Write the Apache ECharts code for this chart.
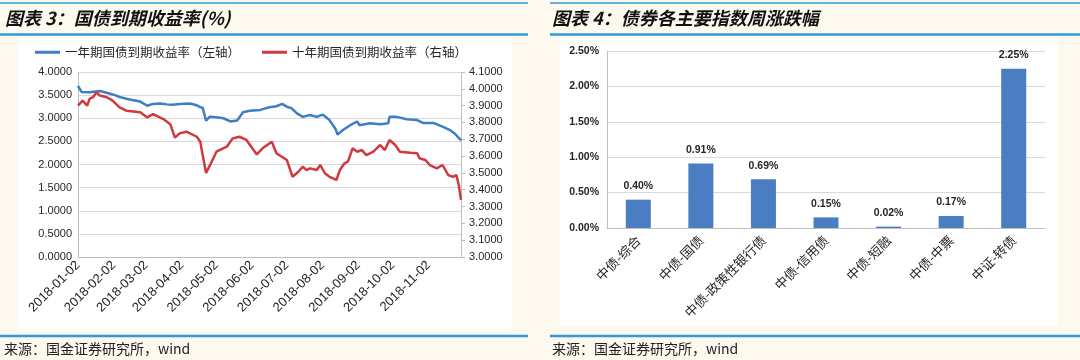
<!DOCTYPE html>
<html><head><meta charset="utf-8">
<script src="https://cdn.jsdelivr.net/npm/echarts@6/dist/echarts.min.js"></script>
<style>html,body{margin:0;padding:0;background:#FDF9EE}#c{width:1080px;height:360px}</style>
</head><body><div id="c"></div>
<script>
// ---- Chart 3 data: bond yields ----
const oneYearName = '一年期国债到期收益率（左轴）';
const tenYearName = '十年期国债到期收益率（右轴）';
const oneYearDates = ['2018-01-02','2018-01-05','2018-01-12','2018-01-21','2018-01-30','2018-02-03','2018-02-07','2018-02-13','2018-02-19','2018-02-25','2018-03-03','2018-03-08','2018-03-14','2018-03-20','2018-03-25','2018-03-31','2018-04-09','2018-04-15','2018-04-18','2018-04-20','2018-04-23','2018-04-26','2018-05-02','2018-05-08','2018-05-14','2018-05-20','2018-05-25','2018-05-31','2018-06-09','2018-06-17','2018-06-23','2018-06-28','2018-07-02','2018-07-06','2018-07-11','2018-07-16','2018-07-22','2018-07-28','2018-08-02','2018-08-08','2018-08-13','2018-08-15','2018-08-20','2018-08-26','2018-09-01','2018-09-03','2018-09-12','2018-09-21','2018-09-28','2018-09-29','2018-10-05','2018-10-14','2018-10-23','2018-10-28','2018-11-06','2018-11-14','2018-11-20','2018-11-25','2018-11-30'];
const oneYearValues = [3.70,3.57,3.56,3.59,3.53,3.50,3.46,3.42,3.39,3.36,3.27,3.31,3.32,3.30,3.29,3.31,3.32,3.28,3.24,3.23,2.95,3.03,3.02,3.00,2.93,2.95,3.13,3.16,3.18,3.24,3.26,3.31,3.25,3.22,3.10,3.03,3.07,3.03,3.08,2.96,2.78,2.65,2.75,2.85,2.93,2.85,2.89,2.87,2.89,3.03,3.03,2.98,2.96,2.90,2.90,2.82,2.75,2.66,2.52];
const tenYearDates = ['2018-01-02','2018-01-06','2018-01-10','2018-01-12','2018-01-15','2018-01-18','2018-01-21','2018-01-27','2018-02-01','2018-02-07','2018-02-13','2018-02-25','2018-03-03','2018-03-08','2018-03-17','2018-03-23','2018-03-27','2018-03-31','2018-04-06','2018-04-15','2018-04-18','2018-04-20','2018-04-23','2018-04-26','2018-05-02','2018-05-11','2018-05-16','2018-05-22','2018-05-28','2018-06-06','2018-06-11','2018-06-19','2018-06-23','2018-07-02','2018-07-07','2018-07-12','2018-07-16','2018-07-19','2018-07-22','2018-07-28','2018-07-31','2018-08-04','2018-08-08','2018-08-14','2018-08-17','2018-08-21','2018-08-24','2018-08-28','2018-09-01','2018-09-05','2018-09-09','2018-09-15','2018-09-21','2018-09-25','2018-09-29','2018-10-04','2018-10-08','2018-10-17','2018-10-23','2018-10-25','2018-10-30','2018-11-03','2018-11-09','2018-11-14','2018-11-19','2018-11-23','2018-11-26','2018-11-28','2018-11-30'];
const tenYearValues = [3.90,3.93,3.90,3.94,3.95,3.98,3.96,3.95,3.93,3.89,3.87,3.86,3.83,3.85,3.82,3.79,3.71,3.735,3.745,3.715,3.685,3.61,3.50,3.54,3.626,3.656,3.705,3.715,3.696,3.61,3.646,3.685,3.617,3.577,3.477,3.507,3.537,3.517,3.527,3.517,3.547,3.498,3.477,3.458,3.517,3.557,3.567,3.646,3.626,3.636,3.606,3.626,3.666,3.636,3.696,3.666,3.626,3.62,3.617,3.587,3.577,3.547,3.527,3.547,3.487,3.477,3.487,3.43,3.34];
const xTickLabels = ['2018-01-02','2018-02-02','2018-03-02','2018-04-02','2018-05-02','2018-06-02','2018-07-02','2018-08-02','2018-09-02','2018-10-02','2018-11-02'];
const axisStart = '2018-01-02', axisEnd = '2018-11-30';

// ---- Chart 4 data: weekly index change ----
const barCategories = ['中债-综合','中债-国债','中债-政策性银行债','中债-信用债','中债-短融','中债-中票','中证-转债'];
const barValues = [0.40,0.91,0.69,0.15,0.02,0.17,2.25];

// calendar day categories for the date axis
function dayList(a, b) {
  const out = [];
  let t = Date.parse(a + 'T00:00:00Z'); const e = Date.parse(b + 'T00:00:00Z');
  while (t <= e) { out.push(new Date(t).toISOString().slice(0, 10)); t += 86400000; }
  return out;
}
const dayCats = dayList(axisStart, axisEnd);
const zip = (d, v) => d.map((x, i) => [x, v[i]]);

const blue = '#3F7DC4', red = '#D03A3E', rule = '#2C9BD7';
const axisTxt = '#262626', gridC = '#D9D9D9', axisC = '#BFBFBF';
const cjk = '"Noto Sans CJK SC", sans-serif';
const lat = '"Liberation Sans", Arial, sans-serif';

const chart = echarts.init(document.getElementById('c'));
chart.setOption({
  backgroundColor: '#FDF9EE',
  animation: false,
  graphic: [
    { type: 'rect', z: -10, silent: true, shape: { x: 18, y: 37, width: 494, height: 292 }, style: { fill: '#fff' } },
    { type: 'rect', z: -10, silent: true, shape: { x: 560, y: 37, width: 498, height: 288 }, style: { fill: '#fff' } },
    { type: 'line', shape: { x1: 0, y1: 3, x2: 528, y2: 3 }, style: { stroke: rule, lineWidth: 1.5 } },
    { type: 'line', shape: { x1: 0, y1: 34.5, x2: 528, y2: 34.5 }, style: { stroke: rule, lineWidth: 2.5 } },
    { type: 'line', shape: { x1: 0, y1: 336, x2: 528, y2: 336 }, style: { stroke: rule, lineWidth: 2.5 } },
    { type: 'line', shape: { x1: 550, y1: 3, x2: 1080, y2: 3 }, style: { stroke: rule, lineWidth: 1.5 } },
    { type: 'line', shape: { x1: 550, y1: 34.5, x2: 1080, y2: 34.5 }, style: { stroke: rule, lineWidth: 2.5 } },
    { type: 'line', shape: { x1: 550, y1: 336, x2: 1080, y2: 336 }, style: { stroke: rule, lineWidth: 2.5 } },
    { type: 'text', style: { text: '图表 3：国债到期收益率(%)', x: 5, y: 18, verticalAlign: 'middle', font: 'italic bold 18px ' + cjk, fill: '#111' } },
    { type: 'text', style: { text: '图表 4：债券各主要指数周涨跌幅', x: 552, y: 18, verticalAlign: 'middle', font: 'italic bold 18px ' + cjk, fill: '#111' } },
    { type: 'text', style: { text: '来源：国金证券研究所，wind', x: 4, y: 349, verticalAlign: 'middle', font: '14px ' + cjk, fill: '#222' } },
    { type: 'text', style: { text: '来源：国金证券研究所，wind', x: 552, y: 349, verticalAlign: 'middle', font: '14px ' + cjk, fill: '#222' } }
  ],
  legend: {
    left: 30, top: 41, itemWidth: 25, itemHeight: 3, itemGap: 22, icon: 'rect',
    textStyle: { fontSize: 12.5, color: axisTxt, fontFamily: cjk },
    data: [oneYearName, tenYearName]
  },
  grid: [
    { left: 78, top: 72, width: 383, height: 185 },
    { left: 607, top: 51, width: 438, height: 177 }
  ],
  xAxis: [
    {
      type: 'category', gridIndex: 0, data: dayCats, boundaryGap: false,
      axisLine: { lineStyle: { color: axisC } },
      axisTick: { show: false },
      axisLabel: {
        rotate: 45, margin: 6, fontSize: 13, color: axisTxt, fontFamily: lat,
        interval: (i, v) => xTickLabels.includes(v)
      },
      splitLine: { show: false }
    },
    {
      type: 'category', gridIndex: 1, data: barCategories,
      axisLine: { lineStyle: { color: axisC } },
      axisTick: { show: false },
      axisLabel: { rotate: 45, margin: 10, fontSize: 13, color: axisTxt, fontFamily: cjk, interval: 0 }
    }
  ],
  yAxis: [
    {
      type: 'value', gridIndex: 0, min: 0, max: 4, interval: 0.5,
      axisLine: { show: true, lineStyle: { color: axisC } }, axisTick: { show: false },
      axisLabel: { fontSize: 11, color: axisTxt, fontFamily: lat, margin: 6, formatter: v => v.toFixed(4) },
      splitLine: { lineStyle: { color: gridC } }
    },
    {
      type: 'value', gridIndex: 0, position: 'right', min: 3.0, max: 4.1, interval: 0.1,
      axisLine: { show: true, lineStyle: { color: axisC } },
      axisTick: { show: true, length: 4, lineStyle: { color: axisC } },
      axisLabel: { fontSize: 11, color: axisTxt, fontFamily: lat, margin: 8, formatter: v => v.toFixed(4) },
      splitLine: { show: false }
    },
    {
      type: 'value', gridIndex: 1, min: 0, max: 2.5, interval: 0.5,
      axisLine: { show: true, lineStyle: { color: axisC } }, axisTick: { show: false },
      axisLabel: { fontSize: 10.5, color: axisTxt, fontFamily: lat, fontWeight: 'bold', margin: 8, formatter: v => v.toFixed(2) + '%' },
      splitLine: { lineStyle: { color: gridC } }
    }
  ],
  series: [
    {
      name: oneYearName, type: 'line', xAxisIndex: 0, yAxisIndex: 0,
      data: zip(oneYearDates, oneYearValues), showSymbol: false,
      lineStyle: { color: blue, width: 2.5 }, itemStyle: { color: blue }
    },
    {
      name: tenYearName, type: 'line', xAxisIndex: 0, yAxisIndex: 1,
      data: zip(tenYearDates, tenYearValues), showSymbol: false,
      lineStyle: { color: red, width: 2.5 }, itemStyle: { color: red }
    },
    {
      name: '周涨跌幅', type: 'bar', xAxisIndex: 1, yAxisIndex: 2,
      data: barValues, barWidth: 25,
      itemStyle: { color: '#4A7DC2' },
      label: { show: true, position: 'top', distance: 8, fontSize: 10.5, fontWeight: 'bold', color: axisTxt, fontFamily: lat, formatter: p => p.value.toFixed(2) + '%' }
    }
  ]
});
</script></body></html>
